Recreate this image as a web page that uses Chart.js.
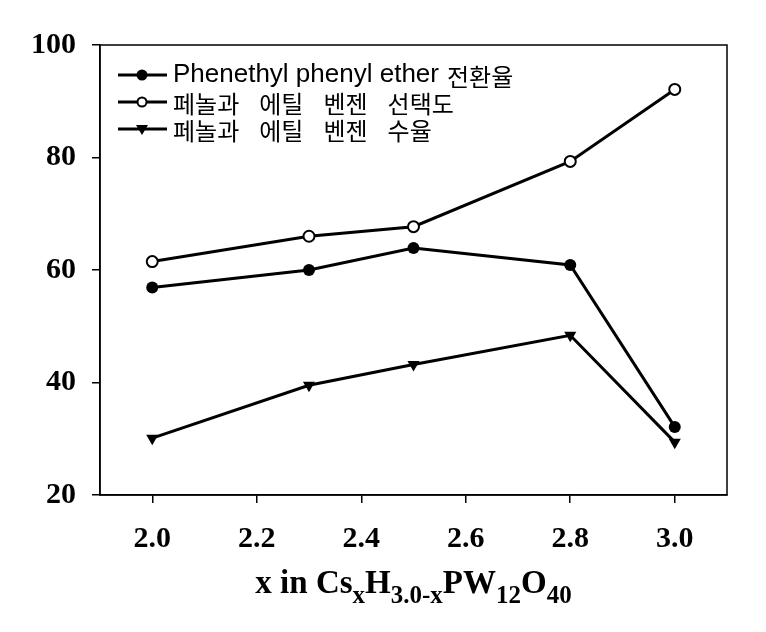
<!DOCTYPE html>
<html>
<head>
<meta charset="utf-8">
<style>
    html, body { margin: 0; padding: 0; background: #fff; }
    #chart { display: block; }
</style>
<script src="https://cdn.jsdelivr.net/npm/chart.js@4/dist/chart.umd.min.js"></script>
</head>
<body>
<canvas id="chart" width="766" height="632"></canvas>
<script>
const xValues = [ 2.0, 2.3, 2.5, 2.8, 3.0 ];
const conversion = [ 56.9, 60.0, 63.9, 60.9, 32.1 ];
const selectivity = [ 61.5, 66.0, 67.7, 79.3, 92.1 ];
const yieldValues = [ 30.1, 39.5, 43.2, 48.4, 29.4 ];
const seriesLabels = [ 'Phenethyl phenyl ether 전환율', '페놀과 에틸 벤젠 선택도', '페놀과 에틸 벤젠 수율' ];
const xTicks = [ 2.0, 2.2, 2.4, 2.6, 2.8, 3.0 ];

const Fonts = {
    serif: "'Liberation Serif', 'Times New Roman', serif",
    latin: "26px 'Liberation Sans', Arial, sans-serif",
    hangul: "24px 'Noto Sans CJK KR', sans-serif"
};

const Utils = {
    points( values ) {
        return values.map( ( y, i ) => ( { x: xValues[ i ], y: y } ) );
    },
    marker( ctx, style, x, y ) {
        ctx.save();
        ctx.lineWidth = 2;
        ctx.strokeStyle = '#000';
        ctx.fillStyle = '#000';
        ctx.beginPath();
        if ( style === 'open' ) {
            ctx.arc( x, y, 4.5, 0, Math.PI * 2 );
            ctx.fillStyle = '#fff';
            ctx.fill();
            ctx.stroke();
        } else if ( style === 'filled' ) {
            ctx.arc( x, y, 5.5, 0, Math.PI * 2 );
            ctx.fill();
        } else {
            ctx.moveTo( x - 6, y - 4 );
            ctx.lineTo( x + 6, y - 4 );
            ctx.lineTo( x, y + 6 );
            ctx.closePath();
            ctx.fill();
        }
        ctx.restore();
    },
    // latin words get a normal space, korean words a wide gap like the original font
    label( ctx, text, x, y ) {
        const words = text.split( ' ' );
        words.forEach( ( word, i ) => {
            const hangul = /[\uac00-\ud7a3]/.test( word );
            ctx.font = hangul ? Fonts.hangul : Fonts.latin;
            ctx.textBaseline = 'middle';
            ctx.fillText( word, x, hangul ? y + 2 : y );
            x += ctx.measureText( word ).width;
            const next = words[ i + 1 ];
            if ( next === undefined ) return;
            if ( hangul ) x += 20;
            else if ( /[\uac00-\ud7a3]/.test( next ) ) x += 8;
            else x += ctx.measureText( ' ' ).width;
        } );
    }
};

// frame, legend and the subscripted x title
const Extras = {
    id: 'extras',
    afterDraw( chart ) {
        const ctx = chart.ctx, area = chart.chartArea;
        ctx.save();
        ctx.strokeStyle = '#000';
        ctx.lineWidth = 1.5;
        ctx.strokeRect( area.left, area.top, area.right - area.left, area.bottom - area.top );

        const styles = [ 'filled', 'open', 'triangle' ];
        const rows = [ 75, 102, 129 ];
        ctx.fillStyle = '#000';
        seriesLabels.forEach( ( label, i ) => {
            ctx.beginPath();
            ctx.lineWidth = 3;
            ctx.moveTo( 118, rows[ i ] );
            ctx.lineTo( 167, rows[ i ] );
            ctx.stroke();
            Utils.marker( ctx, styles[ i ], 142, rows[ i ] );
            Utils.label( ctx, label, 173, rows[ i ] );
        } );

        const parts = [
            [ 'x in Cs', false ], [ 'x', true ], [ 'H', false ], [ '3.0-x', true ],
            [ 'PW', false ], [ '12', true ], [ 'O', false ], [ '40', true ]
        ];
        const big = 'bold 33px ' + Fonts.serif, small = 'bold 25px ' + Fonts.serif;
        let total = 0;
        parts.forEach( p => {
            ctx.font = p[ 1 ] ? small : big;
            total += ctx.measureText( p[ 0 ] ).width;
        } );
        let x = ( area.left + area.right ) / 2 - total / 2;
        const base = 593;
        ctx.textBaseline = 'alphabetic';
        ctx.textAlign = 'left';
        parts.forEach( p => {
            ctx.font = p[ 1 ] ? small : big;
            ctx.fillText( p[ 0 ], x, p[ 1 ] ? base + 10 : base );
            x += ctx.measureText( p[ 0 ] ).width;
        } );
        ctx.restore();
    }
};

const line = ( values, style ) => ( {
    data: Utils.points( values ),
    borderColor: '#000',
    borderWidth: 3,
    backgroundColor: style === 'open' ? '#fff' : '#000',
    pointBorderColor: '#000',
    pointBorderWidth: style === 'open' ? 2 : 0,
    pointRadius: style === 'triangle' ? 7 : ( style === 'open' ? 5.5 : 6 ),
    pointStyle: style === 'triangle' ? 'triangle' : 'circle',
    rotation: style === 'triangle' ? 180 : 0,
    tension: 0,
    clip: false
} );

new Chart( document.getElementById( 'chart' ).getContext( '2d' ), {
    type: 'line',
    data: {
        datasets: [
            Object.assign( line( conversion, 'filled' ), { label: seriesLabels[ 0 ] } ),
            Object.assign( line( selectivity, 'open' ), { label: seriesLabels[ 1 ] } ),
            Object.assign( line( yieldValues, 'triangle' ), { label: seriesLabels[ 2 ] } )
        ]
    },
    options: {
        responsive: false,
        animation: false,
        events: [],
        layout: { padding: { left: 0, right: 39, top: 45, bottom: 0 } },
        plugins: {
            legend: { display: false },
            title: { display: false },
            tooltip: { enabled: false }
        },
        scales: {
            x: {
                type: 'linear',
                min: 1.9,
                max: 3.1,
                afterBuildTicks( scale ) {
                    scale.ticks = xTicks.map( v => ( { value: v } ) );
                },
                afterFit( scale ) { scale.height = 137; },
                grid: { drawOnChartArea: false, drawTicks: true, tickLength: 8, color: '#000', lineWidth: 1.5 },
                border: { display: true, color: '#000', width: 1.5 },
                ticks: {
                    color: '#000',
                    padding: 18,
                    maxRotation: 0,
                    font: { family: Fonts.serif, size: 30, weight: 'bold' },
                    callback: v => Number( v ).toFixed( 1 )
                }
            },
            y: {
                min: 20,
                max: 100,
                afterFit( scale ) { scale.width = 100; },
                grid: { drawOnChartArea: false, drawTicks: true, tickLength: 8, color: '#000', lineWidth: 1.5 },
                border: { display: true, color: '#000', width: 1.5 },
                ticks: {
                    stepSize: 20,
                    color: '#000',
                    padding: 16,
                    font: { family: Fonts.serif, size: 30, weight: 'bold' }
                }
            }
        }
    },
    plugins: [ Extras ]
} );
</script>
</body>
</html>
